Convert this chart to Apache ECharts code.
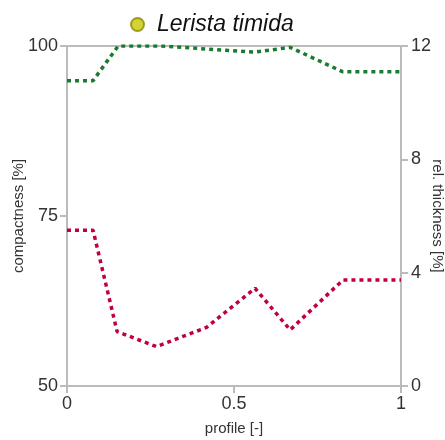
<!DOCTYPE html>
<html>
<head>
<meta charset="utf-8">
<script src="https://cdn.jsdelivr.net/npm/echarts@6/dist/echarts.min.js"></script>
<style>
  html, body { margin: 0; padding: 0; background: #fff; }
  #chart { width: 445px; height: 440px; }
</style>
</head>
<body>
<div id="chart"></div>
<script>
// compactness (left axis) and rel. thickness (right axis) along the profile
const compactX = [0, 0.078, 0.153, 0.28, 0.563, 0.668, 0.826, 1];
const compactY = [94.9, 94.9, 100, 100, 99.1, 99.8, 96.2, 96.2];

const thickX = [0, 0.078, 0.15, 0.268, 0.418, 0.563, 0.668, 0.826, 1];
const thickY = [5.5, 5.5, 1.92, 1.39, 2.07, 3.45, 1.98, 3.74, 3.74];

const speciesName = 'Lerista timida';

function pairs(xs, ys) {
  let out = [];
  for (let i = 0; i < xs.length; i++) out.push([xs[i], ys[i]]);
  return out;
}

const axisCol = '#bbbbbb';
const txtCol = '#333333';

let chart = echarts.init(document.getElementById('chart'));
chart.setOption({
  animation: false,
  textStyle: { fontFamily: 'Liberation Sans, Arial, sans-serif' },
  legend: {
    data: [speciesName],
    top: 8,
    left: 125,
    icon: 'circle',
    itemWidth: 13,
    itemHeight: 13,
    textStyle: { fontSize: 23, fontStyle: 'italic', color: '#111', padding: [0, 0, 0, 8] }
  },
  grid: {
    left: 67, right: 44, top: 46, bottom: 54,
    outerBoundsMode: 'none',
    containLabel: false,
    show: true, borderColor: axisCol, borderWidth: 2
  },
  xAxis: {
    type: 'value', min: 0, max: 1, interval: 0.5,
    name: 'profile [-]', nameLocation: 'middle', nameGap: 35, nameMoveOverlap: false,
    nameTextStyle: { fontSize: 15, color: txtCol },
    axisLine: { lineStyle: { color: axisCol, width: 2 } },
    axisTick: { show: true, length: 7, lineStyle: { color: axisCol, width: 2 } },
    axisLabel: { fontSize: 18, color: txtCol, margin: 9 },
    splitLine: { show: false }
  },
  yAxis: [
    {
      type: 'value', min: 50, max: 100, interval: 25, position: 'left',
      name: 'compactness [%]', nameLocation: 'middle', nameGap: 41, nameMoveOverlap: false,
      nameTextStyle: { fontSize: 15, color: txtCol },
      axisLine: { show: true, lineStyle: { color: axisCol, width: 2 } },
      axisTick: { show: true, length: 7, lineStyle: { color: axisCol, width: 2 } },
      axisLabel: { fontSize: 18, color: txtCol, margin: 9 },
      splitLine: { show: false }
    },
    {
      type: 'value', min: 0, max: 12, interval: 4, position: 'right',
      name: 'rel. thickness [%]', nameLocation: 'middle', nameGap: 29, nameRotate: -90,
      nameMoveOverlap: false,
      nameTextStyle: { fontSize: 15, color: txtCol },
      axisLine: { show: true, lineStyle: { color: axisCol, width: 2 } },
      axisTick: { show: true, length: 7, lineStyle: { color: axisCol, width: 2 } },
      axisLabel: { fontSize: 18, color: txtCol, margin: 10 },
      splitLine: { show: false }
    }
  ],
  series: [
    {
      name: speciesName, type: 'scatter', data: [],
      itemStyle: { color: '#c8c800', borderColor: '#8a8a00', borderWidth: 1 }
    },
    {
      name: 'compactness', type: 'line', yAxisIndex: 0,
      data: pairs(compactX, compactY),
      showSymbol: false,
      lineStyle: { color: '#1a7a2e', width: 3.5, type: [4, 4] }
    },
    {
      name: 'thickness', type: 'line', yAxisIndex: 1,
      data: pairs(thickX, thickY),
      showSymbol: false,
      lineStyle: { color: '#c0003f', width: 3.5, type: [4, 4] }
    }
  ]
});
</script>
</body>
</html>
